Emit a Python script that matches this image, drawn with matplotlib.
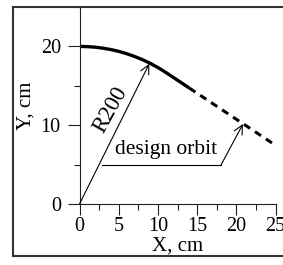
import matplotlib
matplotlib.use("Agg")
import matplotlib.pyplot as plt
from matplotlib.lines import Line2D

plt.rcParams['font.family'] = ['Liberation Serif', 'DejaVu Serif']

# Data
orbit_x = [0, 1, 2, 3, 4, 5, 6, 7, 8, 9, 10, 11, 12, 13, 14]
orbit_y = [20, 19.97, 19.9, 19.77, 19.6, 19.37, 19.08, 18.73, 18.33, 17.86,
           17.32, 16.7, 16.04, 15.38, 14.72]
dash_x = [14, 25]
dash_y = [14.72, 7.45]
radius_start = (0, 0)
radius_tip = (8.9, 17.8)
orbit_label_path_x = [2.87, 18.05]
orbit_label_path_y = [4.95, 4.95]
orbit_arrow_tip = (20.85, 10.15)
x_major = [0, 5, 10, 15, 20, 25]
x_minor = [2.5, 7.5, 12.5, 17.5, 22.5]
y_major = [0, 10, 20]
y_minor = [5, 15, 25]

W, H = 283, 265
fig = plt.figure(figsize=(W / 100, H / 100), dpi=100)
ax = fig.add_axes([79.5 / W, 1 - 204 / H, 196 / W, 197 / H])

ink = '#222222'
ax.plot(orbit_x, orbit_y, color='black', lw=2.4, solid_capstyle='butt')
ax.plot(dash_x, dash_y, color='black', lw=2.2, dashes=(2.4, 1.9))

ax.annotate('', xy=radius_tip, xytext=radius_start,
            arrowprops=dict(arrowstyle='->', color='black', lw=0.8,
                            mutation_scale=16, shrinkA=0, shrinkB=0))
ax.text(3.9, 11.9, 'R200', rotation=61, ha='center', va='center',
        fontsize=16.5, color='black', rotation_mode='anchor')

ax.plot(orbit_label_path_x, orbit_label_path_y, color='black', lw=0.8)
ax.annotate('', xy=orbit_arrow_tip, xytext=(orbit_label_path_x[-1], orbit_label_path_y[-1]),
            arrowprops=dict(arrowstyle='->', color='black', lw=0.8,
                            mutation_scale=16, shrinkA=0, shrinkB=0))
ax.text(11.1, 6.9, 'design orbit', ha='center', va='center', fontsize=15.5,
        color='black')

ax.set_xlim(0, 25)
ax.set_ylim(0, 25)
ax.set_xticks(x_major)
ax.set_xticks(x_minor, minor=True)
ax.set_yticks(y_major)
ax.set_yticks(y_minor, minor=True)
ax.tick_params(axis='both', which='major', length=8, width=0.8, color=ink,
               labelsize=14.5, pad=1.5, direction='out')
ax.tick_params(axis='both', which='minor', length=4.5, width=0.8, color=ink,
               direction='out')
ax.tick_params(axis='y', which='major', length=8.5, pad=5)
for s in ['top', 'right']:
    ax.spines[s].set_visible(False)
for s in ['left', 'bottom']:
    ax.spines[s].set_color(ink)
    ax.spines[s].set_linewidth(0.8)
ax.set_xlabel('X, cm', fontsize=15, labelpad=0)
ax.set_ylabel('Y, cm', fontsize=15, labelpad=4)

# figure frame (right side runs off the image)
fc = '#333333'
L, T, B = 12.5 / W, 1 - 6.5 / H, 1 - 255.5 / H
for xs, ys in [([L, L], [B, T]), ([L, 1.05], [T, T]), ([L, 1.05], [B, B])]:
    fig.add_artist(Line2D(xs, ys, transform=fig.transFigure, color=fc, lw=1.5))

fig.savefig('out.png', dpi=100)
